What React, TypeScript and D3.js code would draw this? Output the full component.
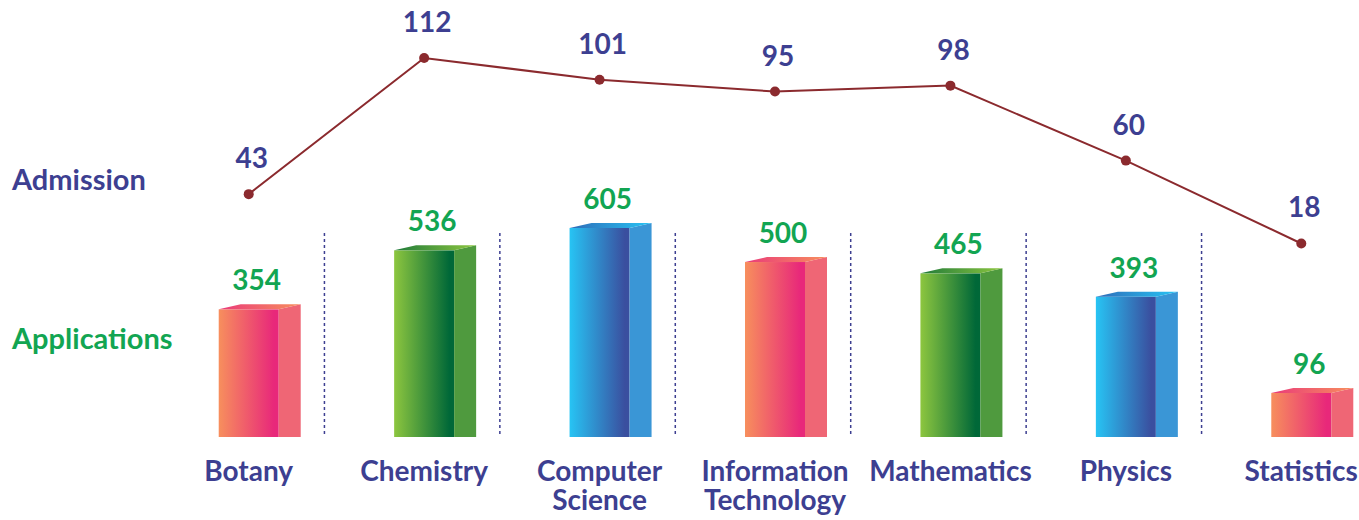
import { useEffect, useRef } from "react";
import * as d3 from "d3";

const categories = [
  "Botany",
  "Chemistry",
  "Computer Science",
  "Information Technology",
  "Mathematics",
  "Physics",
  "Statistics",
];
const labelLines = [
  ["Botany"],
  ["Chemistry"],
  ["Computer", "Science"],
  ["Information", "Technology"],
  ["Mathematics"],
  ["Physics"],
  ["Statistics"],
];
const applications = [354, 536, 605, 500, 465, 393, 96];
const admissions = [43, 112, 101, 95, 98, 60, 18];

const palettes = [
  { from: "#f78f5d", to: "#e8287a", side: "#ef6675", top: "#ea3a7a" },
  { from: "#8dc63f", to: "#006838", side: "#4f9a3e", top: "#1f7a3a" },
  { from: "#27c4f4", to: "#3a4f9f", side: "#3a96d6", top: "#2f6cb8" },
];
const barPalette = [0, 1, 2, 0, 1, 2, 0];

const W = 1359;
const H = 520;
const FONT = "Lato, 'Open Sans', sans-serif";
const BLUE = "#3d3f91";
const GREEN = "#12a552";

const App = () => {
  const svgRef = useRef<SVGSVGElement>(null);

  useEffect(() => {
    const svg = d3.select(svgRef.current);
    svg.selectAll("*").remove();

    const frontW = 60;
    const sideW = 22;
    const depth = 5;
    const base = 437;

    const x = d3.scaleBand().domain(categories).range([161, 1389]).padding(0);
    const cx = (c: string) => (x(c) as number) + x.bandwidth() / 2;

    const yBar = d3.scaleLinear().domain([-40, 605]).range([base, 228]);
    const yLine = d3.scaleLinear().domain([0, 112]).range([279, 58]);

    const defs = svg.append("defs");
    palettes.forEach((p, i) => {
      const g = defs.append("linearGradient").attr("id", `front${i}`).attr("x1", 0).attr("x2", 1);
      g.append("stop").attr("offset", "0%").attr("stop-color", p.from);
      g.append("stop").attr("offset", "92%").attr("stop-color", p.to);
      g.append("stop").attr("offset", "100%").attr("stop-color", p.to);
      const t = defs.append("linearGradient").attr("id", `top${i}`).attr("x1", 0).attr("x2", 1);
      t.append("stop").attr("offset", "0%").attr("stop-color", p.top);
      t.append("stop").attr("offset", "100%").attr("stop-color", p.from);
    });

    // dotted separators
    svg
      .append("g")
      .selectAll("line")
      .data(categories.slice(1))
      .join("line")
      .attr("x1", (c) => (x(c) as number) - 12)
      .attr("x2", (c) => (x(c) as number) - 12)
      .attr("y1", 233)
      .attr("y2", base)
      .attr("stroke", BLUE)
      .attr("stroke-width", 1.5)
      .attr("stroke-dasharray", "3,3");

    // bars
    const bars = svg
      .append("g")
      .selectAll("g")
      .data(categories)
      .join("g");

    bars.each(function (c, i) {
      const g = d3.select(this);
      const left = cx(c) - frontW / 2;
      const top = yBar(applications[i]);
      const pi = barPalette[i];
      g.append("rect")
        .attr("x", left)
        .attr("y", top)
        .attr("width", frontW)
        .attr("height", base - top)
        .attr("fill", `url(#front${pi})`);
      g.append("path")
        .attr(
          "d",
          `M${left + frontW},${top}L${left + frontW + sideW},${top - depth}L${left + frontW + sideW},${base}L${left + frontW},${base}Z`
        )
        .attr("fill", palettes[pi].side);
      g.append("path")
        .attr(
          "d",
          `M${left},${top}L${left + sideW},${top - depth}L${left + frontW + sideW},${top - depth}L${left + frontW},${top}Z`
        )
        .attr("fill", `url(#top${pi})`);
      g.append("text")
        .attr("x", cx(c) + 8)
        .attr("y", top - 19)
        .attr("text-anchor", "middle")
        .attr("font-family", FONT)
        .attr("font-weight", 700)
        .attr("font-size", 28)
        .attr("fill", GREEN)
        .text(applications[i]);
    });

    // admissions line
    const line = d3
      .line<number>()
      .x((_, i) => cx(categories[i]))
      .y((d) => yLine(d));
    svg
      .append("path")
      .datum(admissions)
      .attr("d", line)
      .attr("fill", "none")
      .attr("stroke", "#8b2a2e")
      .attr("stroke-width", 2);
    svg
      .append("g")
      .selectAll("circle")
      .data(admissions)
      .join("circle")
      .attr("cx", (_, i) => cx(categories[i]))
      .attr("cy", (d) => yLine(d))
      .attr("r", 5)
      .attr("fill", "#8b2a2e");
    svg
      .append("g")
      .selectAll("text")
      .data(admissions)
      .join("text")
      .attr("x", (_, i) => cx(categories[i]) + 3)
      .attr("y", (d) => yLine(d) - 26)
      .attr("text-anchor", "middle")
      .attr("font-family", FONT)
      .attr("font-weight", 700)
      .attr("font-size", 28)
      .attr("fill", BLUE)
      .text((d) => d);

    // category labels
    const labels = svg
      .append("g")
      .selectAll("text")
      .data(categories)
      .join("text")
      .attr("text-anchor", "middle")
      .attr("font-family", FONT)
      .attr("font-weight", 700)
      .attr("font-size", 28)
      .attr("fill", BLUE);
    labels.each(function (c, i) {
      d3.select(this)
        .selectAll("tspan")
        .data(labelLines[i])
        .join("tspan")
        .attr("x", cx(c))
        .attr("y", (_, j) => 481 + j * 29)
        .text((d) => d);
    });

    // row titles
    svg
      .append("text")
      .attr("x", 12)
      .attr("y", 190)
      .attr("font-family", FONT)
      .attr("font-weight", 700)
      .attr("font-size", 29)
      .attr("fill", BLUE)
      .text("Admission");
    svg
      .append("text")
      .attr("x", 12)
      .attr("y", 349)
      .attr("font-family", FONT)
      .attr("font-weight", 700)
      .attr("font-size", 29)
      .attr("fill", GREEN)
      .text("Applications");
  }, []);

  return (
    <svg
      ref={svgRef}
      width={W}
      height={H}
      style={{ position: "absolute", left: 0, top: 0, background: "#fff" }}
    />
  );
};

export default App;
